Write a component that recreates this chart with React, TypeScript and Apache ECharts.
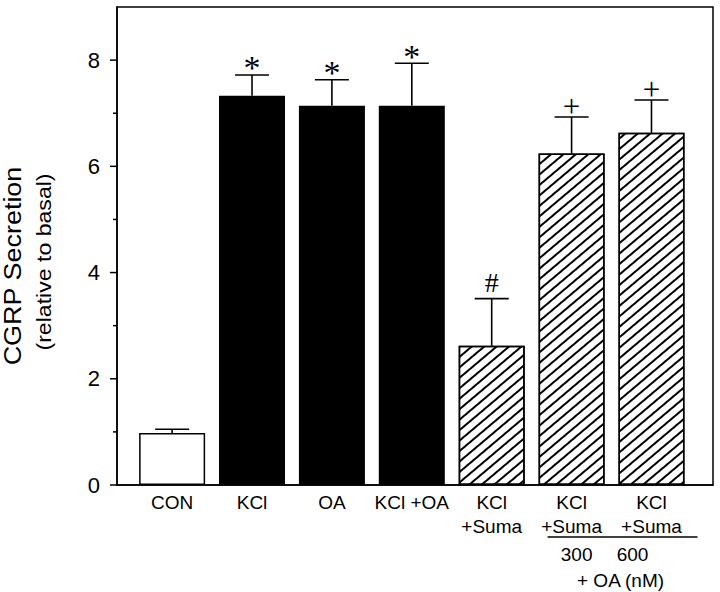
import React, { useEffect, useRef } from "react";
import * as echarts from "echarts";

// ---- data ----
const categories = ["CON", "KCl", "OA", "KCl +OA", "KCl\n+Suma", "KCl\n+Suma", "KCl\n+Suma"];
const means = [0.98, 7.33, 7.14, 7.14, 2.62, 6.24, 6.63];
const errorTops = [1.05, 7.72, 7.63, 7.94, 3.51, 6.93, 7.25];
const markers = ["", "*", "*", "*", "#", "+", "+"];
const fillTypes = ["open", "solid", "solid", "solid", "hatch", "hatch", "hatch"];
const oaDoses = ["300", "600"];
const oaDoseBars = [5, 6];
const oaGroupLabel = "+ OA (nM)";
const yTickValues = [0, 1, 2, 3, 4, 5, 6, 7, 8];
const yTitle = "CGRP Secretion";
const ySubTitle = "(relative to basal)";

// ---- layout / style ----
const X_MIN = -0.69;
const X_MAX = 6.77;
const SANS = "'Liberation Sans', Arial, Helvetica, sans-serif";
const SERIF = "'Liberation Serif', 'Times New Roman', serif";
const markerStyle: Record<string, { size: number; dy: number }> = {
  "*": { size: 34, dy: -7 },
  "+": { size: 31, dy: -10 },
  "#": { size: 28, dy: -16 },
};

function barItemStyle(kind: string) {
  const base = { borderColor: "#000", borderWidth: 1.5 };
  if (kind === "solid") return { ...base, color: "#000" };
  if (kind === "hatch")
    return {
      ...base,
      color: "#fff",
      decal: {
        symbol: "rect",
        symbolSize: 1,
        dashArrayX: [1, 0],
        dashArrayY: [1.4, 5.2],
        rotation: -0.7,
        color: "#000",
        backgroundColor: "#fff",
      },
    };
  return { ...base, color: "#fff" };
}

export default function App() {
  const ref = useRef<HTMLDivElement>(null);

  useEffect(() => {
    document.body.style.margin = "0";
    if (!ref.current) return;
    const chart = echarts.init(ref.current, undefined, { renderer: "svg" });

    const option: any = {
      animation: false,
      backgroundColor: "#fff",
      grid: {
        left: 117,
        right: 7,
        top: 7,
        bottom: 107,
        show: true,
        borderColor: "#000",
        borderWidth: 1.5,
        backgroundColor: "transparent",
      },
      xAxis: {
        type: "value",
        min: X_MIN,
        max: X_MAX,
        axisLine: { show: true, onZero: false, lineStyle: { color: "#000", width: 1.5 } },
        axisTick: { show: false },
        axisLabel: { show: false },
        splitLine: { show: false },
      },
      yAxis: {
        type: "value",
        min: 0,
        max: 9,
        interval: 1,
        axisLine: { show: true, onZero: false, lineStyle: { color: "#000", width: 1.5 } },
        axisTick: { show: false },
        splitLine: { show: false },
        axisLabel: {
          margin: 17,
          color: "#000",
          fontSize: 22,
          fontFamily: SANS,
          formatter: (v: number) => (v % 2 === 0 && v <= 8 ? String(v) : ""),
        },
      },
      graphic: [
        {
          type: "text",
          x: 12,
          y: 266,
          rotation: Math.PI / 2,
          scaleX: 1.1,
          style: {
            text: yTitle,
            fontSize: 24.5,
            fontFamily: SANS,
            fill: "#000",
            align: "center",
            verticalAlign: "middle",
          },
        },
        {
          type: "text",
          x: 44,
          y: 262,
          rotation: Math.PI / 2,
          scaleX: 1.1,
          style: {
            text: ySubTitle,
            fontSize: 21,
            fontFamily: SANS,
            fill: "#000",
            align: "center",
            verticalAlign: "middle",
          },
        },
      ],
      series: [
        {
          type: "bar",
          name: "bars",
          barWidth: 66,
          data: means.map((v, i) => ({ value: [i, v], itemStyle: barItemStyle(fillTypes[i]) })),
          z: 2,
        },
        {
          type: "custom",
          name: "errors",
          z: 3,
          data: means.map((v, i) => [i, v, errorTops[i]]),
          renderItem: (params: any, api: any) => {
            const i = api.value(0);
            const top = api.coord([i, api.value(1)]);
            const cap = api.coord([i, api.value(2)]);
            const m = markers[params.dataIndex];
            const ms = markerStyle[m] || { size: 28, dy: -14 };
            const ls = { stroke: "#000", lineWidth: 1.6 };
            const children: any[] = [
              { type: "line", shape: { x1: top[0], y1: top[1], x2: cap[0], y2: cap[1] }, style: ls },
              { type: "line", shape: { x1: cap[0] - 17, y1: cap[1], x2: cap[0] + 17, y2: cap[1] }, style: ls },
            ];
            if (m) {
              children.push({
                type: "text",
                x: cap[0],
                y: cap[1] + ms.dy,
                style: {
                  text: m,
                  fontSize: ms.size,
                  fontFamily: SERIF,
                  fill: "#000",
                  align: "center",
                  verticalAlign: "middle",
                },
              });
            }
            return { type: "group", children };
          },
        },
        {
          type: "custom",
          name: "xlabels",
          silent: true,
          data: categories.map((c, i) => [i, 0]),
          renderItem: (params: any, api: any) => {
            const p = api.coord([api.value(0), 0]);
            return {
              type: "text",
              x: p[0],
              y: p[1] + 5,
              style: {
                text: categories[params.dataIndex],
                fontSize: 19,
                lineHeight: 24,
                fontFamily: SANS,
                fill: "#000",
                align: "center",
                verticalAlign: "top",
              },
            };
          },
        },
        {
          type: "custom",
          name: "oaGroup",
          silent: true,
          data: [oaDoseBars],
          renderItem: (params: any, api: any) => {
            const a = api.coord([api.value(0), 0]);
            const b = api.coord([api.value(1), 0]);
            const ts = (t: string) => ({
              text: t,
              fontSize: 19,
              fontFamily: SANS,
              fill: "#000",
              align: "center",
              verticalAlign: "middle",
            });
            return {
              type: "group",
              children: [
                {
                  type: "line",
                  shape: { x1: a[0] - 24, y1: a[1] + 52, x2: b[0] + 46, y2: a[1] + 52 },
                  style: { stroke: "#000", lineWidth: 1.5 },
                },
                { type: "text", x: a[0] + 5, y: a[1] + 69, style: ts(oaDoses[0]) },
                { type: "text", x: b[0] - 19, y: b[1] + 69, style: ts(oaDoses[1]) },
                { type: "text", x: (a[0] + b[0]) / 2 + 9, y: a[1] + 95, style: ts(oaGroupLabel) },
              ],
            };
          },
        },
        {
          type: "custom",
          name: "yticks",
          silent: true,
          data: yTickValues.map((v) => [X_MIN, v]),
          renderItem: (params: any, api: any) => {
            const v = api.value(1);
            const p = api.coord([X_MIN, v]);
            const len = v % 2 === 0 ? 7 : 4;
            return {
              type: "line",
              shape: { x1: p[0] - len, y1: p[1], x2: p[0], y2: p[1] },
              style: { stroke: "#000", lineWidth: 1.5 },
            };
          },
        },
      ],
    };

    chart.setOption(option);
    return () => chart.dispose();
  }, []);

  return <div ref={ref} style={{ width: 720, height: 592 }} />;
}
